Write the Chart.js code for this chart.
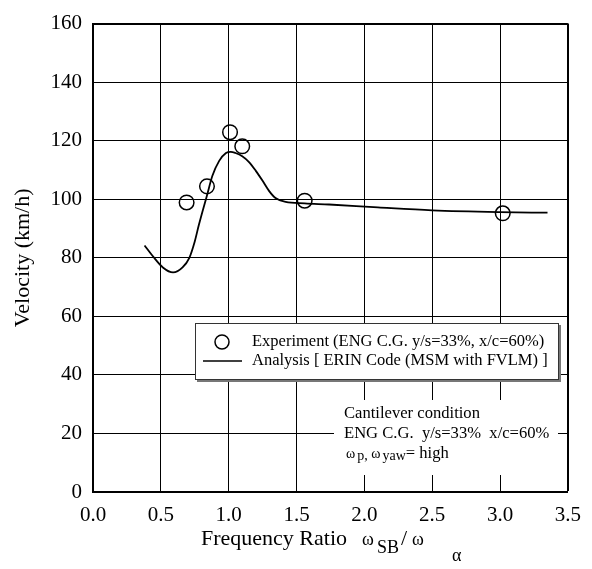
<!DOCTYPE html>
<html>
<head>
<meta charset="utf-8">
<script src="https://cdn.jsdelivr.net/npm/chart.js@4.4.1/dist/chart.umd.min.js"></script>
<style>
html,body{margin:0;padding:0;background:#fff;}
#wrap{width:592px;height:569px;position:relative;}
</style>
</head>
<body>
<div id="wrap"><canvas id="flutterChart" width="592" height="569"></canvas></div>
<script>
// experiment points (ENG C.G. y/s=33%, x/c=60%)
const expRatio = [0.69, 0.84, 1.01, 1.10, 1.56, 3.02];
const expVelocity = [98.9, 104.4, 122.9, 118.1, 99.5, 95.2];

// analysis curve
const anaRatio = [0.38, 0.44, 0.515, 0.59, 0.66, 0.71, 0.75, 0.78, 0.84, 0.88, 0.93, 0.98, 1.015, 1.05, 1.10, 1.15, 1.20, 1.25, 1.30, 1.345, 1.42, 1.56, 1.74, 2.10, 2.50, 3.00, 3.35];
const anaVelocity = [84.2, 80.6, 76.7, 75.0, 76.7, 80.0, 85.6, 91.2, 101.3, 108.0, 113.1, 115.8, 116.2, 115.8, 114.7, 112.7, 109.7, 106.3, 102.7, 100.4, 99.1, 98.6, 98.2, 97.2, 96.2, 95.6, 95.4];

const xTickValues = [0.0, 0.5, 1.0, 1.5, 2.0, 2.5, 3.0, 3.5];
const yTickValues = [0, 20, 40, 60, 80, 100, 120, 140, 160];

const serif = "'Liberation Serif', 'DejaVu Serif', serif";

const legendItems = [
    "Experiment (ENG C.G. y/s=33%, x/c=60%)",
    "Analysis [ ERIN Code (MSM with FVLM) ]"
];

const noteLines = [
    "Cantilever condition",
    "ENG C.G.  y/s=33%  x/c=60%"
];

const decorPlugin = {
    id: "decor",

    beforeDatasetsDraw(chart){

        const ctx = chart.ctx;

        // white patch behind the condition note
        ctx.save();
        ctx.fillStyle = "#fff";
        ctx.fillRect(334, 400, 224, 75);

        ctx.fillStyle = "#000";
        ctx.textBaseline = "alphabetic";
        ctx.font = "16.6px " + serif;
        ctx.fillText(noteLines[0], 344, 418);
        ctx.fillText(noteLines[1], 344, 438);

        let x = 346;
        ctx.font = "14px " + serif;
        ctx.fillText("\u03c9", x, 458);
        x += ctx.measureText("\u03c9").width + 2;
        ctx.fillText("p, ", x, 460);
        x += ctx.measureText("p, ").width;
        ctx.fillText("\u03c9", x, 458);
        x += ctx.measureText("\u03c9").width + 2;
        ctx.fillText("yaw", x, 460);
        x += ctx.measureText("yaw").width;
        ctx.font = "16.6px " + serif;
        ctx.fillText("= high", x, 458);
        ctx.restore();
    },

    afterDraw(chart){

        const ctx = chart.ctx;
        ctx.save();

        // legend box with shadow
        ctx.fillStyle = "#777";
        ctx.fillRect(197, 325, 364, 57);
        ctx.fillStyle = "#fff";
        ctx.fillRect(195, 323, 364, 57);
        ctx.strokeStyle = "#333";
        ctx.lineWidth = 1;
        ctx.strokeRect(195.5, 323.5, 363, 56);

        ctx.strokeStyle = "#000";
        ctx.lineWidth = 1.5;
        ctx.beginPath();
        ctx.arc(222, 342, 7, 0, Math.PI * 2);
        ctx.stroke();

        ctx.beginPath();
        ctx.moveTo(203, 361);
        ctx.lineTo(242, 361);
        ctx.stroke();

        ctx.fillStyle = "#000";
        ctx.font = "16.5px " + serif;
        ctx.textBaseline = "middle";
        ctx.fillText(legendItems[0], 252, 342);
        ctx.fillText(legendItems[1], 252, 361);

        // x axis title with subscripts
        ctx.textBaseline = "alphabetic";
        ctx.font = "22px " + serif;
        ctx.fillText("Frequency Ratio", 201, 545);
        ctx.font = "18px " + serif;
        ctx.fillText("\u03c9", 362, 545);
        ctx.fillText("SB", 377, 553);
        ctx.font = "22px " + serif;
        ctx.fillText("/", 401, 545);
        ctx.font = "18px " + serif;
        ctx.fillText("\u03c9", 412, 545);
        ctx.fillText("\u03b1", 452, 561);

        ctx.restore();
    }
};

const edgeWidth = (ctx, edge)=>
    (ctx.tick && ctx.tick.value === edge) ? 2 : 1;

new Chart(

document.getElementById("flutterChart"),

{
    type:"scatter",

    data:{
        datasets:[

        {
            label:"Analysis",
            type:"line",
            data:anaRatio.map((r,i)=>({x:r, y:anaVelocity[i]})),
            borderColor:"#000",
            borderWidth:1.8,
            pointRadius:0,
            fill:false,
            cubicInterpolationMode:"monotone"
        },

        {
            label:"Experiment",
            data:expRatio.map((r,i)=>({x:r, y:expVelocity[i]})),
            pointRadius:7.3,
            pointBorderWidth:1.5,
            pointBorderColor:"#000",
            pointBackgroundColor:"rgba(0,0,0,0)"
        }

        ]
    },

    options:{
        responsive:false,
        animation:false,
        layout:{
            padding:{top:15, right:21, left:0, bottom:0}
        },
        plugins:{
            legend:{display:false},
            tooltip:{enabled:false}
        },
        scales:{
            x:{
                type:"linear",
                min:0,
                max:3.5,
                afterFit(scale){ scale.height = 77; },
                afterBuildTicks(scale){
                    scale.ticks = xTickValues.map(v=>({value:v}));
                },
                grid:{color:"#000", lineWidth:ctx=>edgeWidth(ctx, 3.5), drawTicks:false},
                border:{color:"#000", width:2},
                ticks:{
                    padding:11,
                    color:"#000",
                    font:{family:serif, size:21},
                    callback:v=>Number(v).toFixed(1)
                }
            },
            y:{
                type:"linear",
                min:0,
                max:160,
                afterFit(scale){ scale.width = 93; },
                afterBuildTicks(scale){
                    scale.ticks = yTickValues.map(v=>({value:v}));
                },
                grid:{color:"#000", lineWidth:ctx=>edgeWidth(ctx, 160), drawTicks:false},
                border:{color:"#000", width:2},
                ticks:{
                    padding:11,
                    color:"#000",
                    font:{family:serif, size:21}
                },
                title:{
                    display:true,
                    text:"Velocity (km/h)",
                    color:"#000",
                    font:{family:serif, size:22},
                    padding:{top:10, bottom:0}
                }
            }
        }
    },

    plugins:[decorPlugin]
});
</script>
</body>
</html>
